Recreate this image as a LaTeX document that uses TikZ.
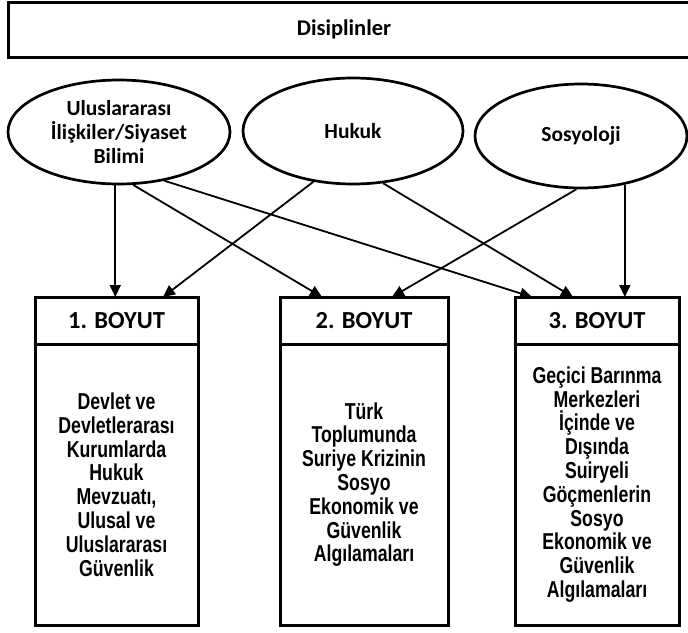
\documentclass[tikz,border=0pt]{standalone}
\usepackage{fontspec}
\setmainfont{Liberation Sans}
\newfontfamily\calib{Carlito}
\newfontfamily\bodyfont{Liberation Sans}[FakeStretch=0.77]
\usetikzlibrary{shapes.geometric,arrows.meta,calc}
\begin{document}
\begin{tikzpicture}[x=1pt,y=-1pt,
  box/.style={draw, line width=3pt, rectangle, inner sep=0pt, outer sep=0pt, anchor=north},
  disc/.style={draw, ellipse, line width=2.7pt, inner sep=0pt, align=center,
    font=\calib\bfseries\fontsize{21.5}{24}\selectfont},
  hdr/.style={box, font=\calib\bfseries\fontsize{24.5}{28}\selectfont, minimum height=47pt},
  body/.style={box, font=\bodyfont\bfseries\fontsize{23}{23.8}\selectfont, align=center, minimum height=281pt},
  conn/.style={line width=1.8pt, -{Triangle[length=12pt,width=11pt]}}]
\useasboundingbox[fill=white] (0,0) rectangle (688,632);

\node[box, minimum width=684pt, minimum height=55pt,
  font=\calib\bfseries\fontsize{22.5}{26}\selectfont] (top) at (350,2) {\hspace*{-12pt}Disiplinler};

\node[disc, minimum width=222pt, minimum height=104pt] (e1) at (119,132) {Uluslararası\\İlişkiler/Siyaset\\Bilimi};
\node[disc, minimum width=220pt, minimum height=106pt] (e2) at (353,131) {Hukuk};
\node[disc, minimum width=212pt, minimum height=104pt] (e3) at (581,136) {Sosyoloji};

\node[hdr, minimum width=163pt] (h1) at (116.5,297) {1. BOYUT};
\node[body, minimum width=163pt] (b1) at (h1.south) {Devlet ve\\Devletlerarası\\Kurumlarda\\Hukuk\\Mevzuatı,\\Ulusal ve\\Uluslararası\\Güvenlik};
\node[hdr, minimum width=168pt] (h2) at (364,297) {2. BOYUT};
\node[body, minimum width=168pt] (b2) at (h2.south) {Türk\\Toplumunda\\Suriye Krizinin\\Sosyo\\Ekonomik ve\\Güvenlik\\Algılamaları};
\node[hdr, minimum width=164pt] (h3) at (597,297) {3. BOYUT};
\node[body, minimum width=164pt] (b3) at (h3.south) {Geçici Barınma\\Merkezleri\\İçinde ve\\Dışında\\Suiryeli\\Göçmenlerin\\Sosyo\\Ekonomik ve\\Güvenlik\\Algılamaları};

\draw[conn] (e1.-94) -- (e1.-94 |- h1.north);
\draw[conn] (e1.-75) -- ([xshift=-42pt]h2.north);
\draw[conn] (e1.-47.5) -- ([xshift=-65pt]h3.north);
\draw[conn] (e2.-128.7) -- ([xshift=46.5pt]h1.north);
\draw[conn] (e2.-60) -- ([xshift=-24pt]h3.north);
\draw[conn] (e3.-95) -- ([xshift=28pt]h2.north);
\draw[conn] (e3.-48.6) -- (e3.-48.6 |- h3.north);
\end{tikzpicture}
\end{document}
